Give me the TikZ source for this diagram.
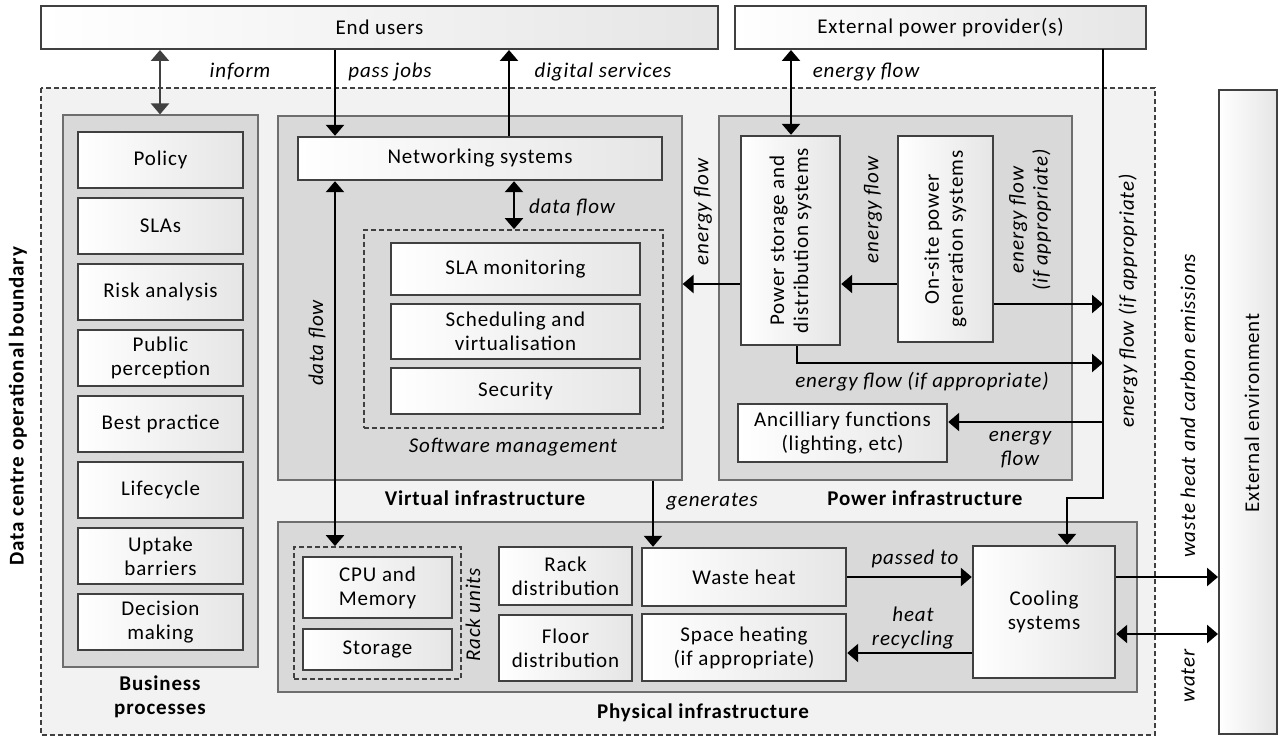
\documentclass[tikz,border=0pt]{standalone}
\usepackage{fontspec}
\setmainfont{Carlito}[LetterSpace=4]
\usetikzlibrary{arrows.meta}
\definecolor{edge}{RGB}{64,64,64}
\definecolor{frame}{RGB}{110,110,110}
\definecolor{groupfill}{RGB}{217,217,217}
\definecolor{bgfill}{RGB}{242,242,242}
\newcommand\boxfont{\fontsize{21}{24}\selectfont}
\tikzset{
    corners/.style n args={4}{
        minimum width={#3-#1}, minimum height={#4-#2},
        at={({(#1+#3)/2},{(#2+#4)/2})}
    },
    card/.style={
        draw=edge, line width=2.4pt,
        left color=white, right color=black!10,
        inner sep=0pt, align=center
    },
    group/.style={draw=frame, line width=1.2pt, fill=groupfill, inner sep=0pt},
    zone/.style={draw=edge, line width=1.8pt, dash pattern=on 5pt off 3pt, inner sep=0pt},
    flow/.style={line width=2.5pt, >={Triangle[length=11pt, width=18pt]}},
    note/.style={font=\boxfont\itshape, align=center},
    title/.style={font=\boxfont\bfseries, align=center}
}

\begin{document}
\begin{tikzpicture}[
        x=1pt, y=-1pt,
        every node/.style={font=\boxfont}
    ]
    \useasboundingbox (0,0) rectangle (1279,738);

    % operational boundary
    \draw[zone, fill=bgfill] (41,88) rectangle (1155,735);

    % outside actors
    \node[card, line width=2pt, corners={41}{6}{718}{49}] (users) {End users};
    \node[card, line width=2pt, corners={735}{6}{1146}{49}] (provider) {External power provider(s)};
    \node[card, line width=2pt, corners={1219}{90}{1277}{734}] (extenv) {};
    \node[rotate=90] at (1252,413) {External environment};

    % groups
    \node[group, corners={63}{115}{258}{667}] (bizproc) {};
    \node[group, corners={278}{116}{682}{480}] (virtual) {};
    \node[group, corners={719}{116}{1072}{480}] (power) {};
    \node[group, corners={278}{522}{1137}{692}] (physical) {};

    \node[title] at (160,697) {Business\\processes};
    \node[title] at (485,498) {Virtual infrastructure};
    \node[title] at (925,498) {Power infrastructure};
    \node[title] at (703,713) {Physical infrastructure};
    \node[title, rotate=90] at (18,406) {Data centre operational boundary};

    \foreach \txt [count=\i] in {Policy, SLAs, Risk analysis, Public\\perception,
            Best practice, Lifecycle, Uptake\\barriers, Decision\\making} {
        \pgfmathsetmacro\ytop{132+66*(\i-1)}
        \node[card, corners={78}{\ytop}{243}{\ytop+56}] (bp\i) {\txt};
    }

    % virtual infrastructure
    \node[card, corners={298}{137}{662}{180}] (netsys) {Networking systems};
    \node[zone, corners={364}{230}{663}{428}] (swm) {};
    \node[card, corners={391}{243}{640}{295}] (slamon) {SLA monitoring};
    \node[card, corners={391}{304}{640}{359}] (sched) {Scheduling and\\virtualisation};
    \node[card, corners={391}{368}{640}{414}] (secur) {Security};
    \node[note] at (513,447) {Software management};

    % power infrastructure
    \node[card, corners={741}{136}{840}{345}] (pstore) {};
    \node[rotate=90, align=center] at (pstore) {Power storage and\\distribution systems};
    \node[card, corners={898}{136}{993}{342}] (onsite) {};
    \node[rotate=90, align=center] at (onsite) {On-site power\\generation systems};
    \node[card, corners={738}{404}{947}{462}] (ancil) {Ancilliary functions\\(lighting, etc)};

    % physical infrastructure
    \node[zone, corners={294}{547}{461}{679}] (racks) {};
    \node[card, corners={303}{557}{452}{618}] (cpu) {CPU and\\Memory};
    \node[card, corners={303}{629}{452}{670}] (disk) {Storage};
    \node[note, rotate=90] at (473,615) {Rack units};
    \node[card, corners={499}{547}{632}{605}] (rackdist) {Rack\\distribution};
    \node[card, corners={499}{615}{632}{681}] (floordist) {Floor\\distribution};
    \node[card, corners={642}{548}{846}{606}] (waste) {Waste heat};
    \node[card, corners={642}{614}{846}{681}] (spaceheat) {Space heating\\(if appropriate)};
    \node[card, corners={973}{546}{1115}{678}] (cooling) {Cooling\\systems};

    % supply line from the provider
    \coordinate (trunk) at (1103,49);
    \coordinate (bend) at (1103,498);

    \begin{scope}[flow]
        \draw[<->, draw=edge] (users.south -| 160,0) -- (bizproc.north -| 160,0);
        \draw[->] (users.south -| 335,0) -- (netsys.north -| 335,0);
        \draw[->] (netsys.north -| 509,0) -- (users.south -| 509,0);
        \draw[<->] (provider.south -| 791,0) -- (pstore.north -| 791,0);
        \draw[<->] (netsys.south -| 514,0) -- (swm.north -| 514,0);
        \draw[<->] (netsys.south -| 335,0) -- (racks.north -| 335,0);
        \draw[->] (pstore.west |- 0,284) -- (virtual.east |- 0,284);
        \draw[->] (onsite.west |- 0,284) -- (pstore.east |- 0,284);
        \draw[->] (onsite.east |- 0,304) -- (trunk |- 0,304);
        \draw[->] (pstore.south -| 797,0) |- (trunk |- 0,363);
        \draw[->] (trunk |- 0,422) -- (ancil.east |- 0,422);
        \draw[->] (trunk) -- (bend) -| (cooling.north -| 1067,0);
        \draw[->] (virtual.south -| 653,0) -- (waste.north -| 653,0);
        \draw[->] (waste.east) -- (cooling.west |- waste.east);
        \draw[->] (cooling.west |- 0,653) -- (spaceheat.east |- 0,653);
        \draw[->] (cooling.east |- 0,577) -- (extenv.west |- 0,577);
        \draw[<->] (cooling.east |- 0,634) -- (extenv.west |- 0,634);
    \end{scope}

    % flow labels
    \node[note] at (240,72) {inform};
    \node[note] at (390,72) {pass jobs};
    \node[note] at (603,72) {digital services};
    \node[note] at (866,72) {energy flow};
    \node[note] at (572,207) {data flow};
    \node[note, rotate=90] at (317,343) {data flow};
    \node[note, rotate=90] at (703,212) {energy flow};
    \node[note, rotate=90] at (873,210) {energy flow};
    \node[note, rotate=90] at (1030,220) {energy flow\\(if appropriate)};
    \node[note] at (922,382) {energy flow (if appropriate)};
    \node[note] at (1020,450) {energy\\flow};
    \node[note, rotate=90] at (1128,301) {energy flow (if appropriate)};
    \node[note] at (712,502) {generates};
    \node[note] at (915,559) {passed to};
    \node[note] at (913,628) {heat\\recycling};
    \node[note, rotate=90] at (1188,406) {waste heat and carbon emissions};
    \node[note, rotate=90] at (1188,676) {water};
\end{tikzpicture}
\end{document}
